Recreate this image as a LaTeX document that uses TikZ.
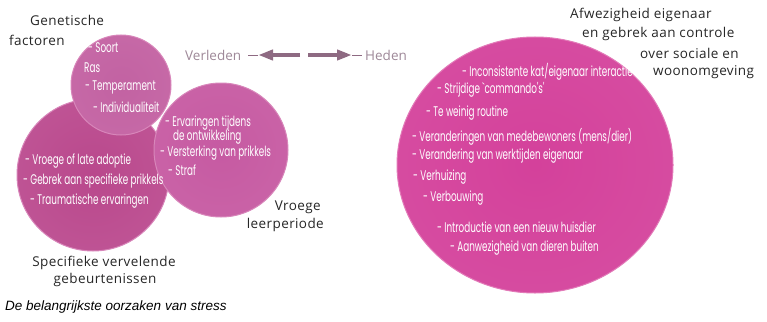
\documentclass[tikz,border=0pt]{standalone}
\usepackage{fontspec}
\setmainfont{Open Sans}
\newfontfamily\lblfont[LetterSpace=3]{Open Sans}
\newfontfamily\itemfont[FakeStretch=0.63]{Poppins}
\newfontfamily\capfont{Liberation Sans}
\usetikzlibrary{arrows.meta,shapes.geometric}
\definecolor{pinkS}{HTML}{B9488C}
\definecolor{pinkG}{HTML}{C262A2}
\definecolor{pinkV}{HTML}{C65AA2}
\definecolor{pinkB}{HTML}{D4419B}
\definecolor{rimA}{HTML}{D886BA}
\definecolor{rimB}{HTML}{E27AB8}
\definecolor{mauve}{HTML}{8E6A82}
\definecolor{mauvetxt}{HTML}{9E8898}
\tikzset{
  bubble/.style={circle, inner sep=0pt, draw=rimA, line width=1pt, inner color=#1, outer color=#1!82!rimA},
  bigbubble/.style={ellipse, inner sep=0pt, draw=rimB, line width=1pt, inner color=pinkB, outer color=pinkB!82!rimB},
  item/.style={anchor=west, text=white, font=\itemfont\fontsize{14}{16}\selectfont, inner sep=0pt},
  lbl/.style={text=black!85, font=\lblfont\fontsize{13.5}{15}\selectfont, inner sep=0pt},
  timelbl/.style={anchor=west, text=mauvetxt, font=\fontsize{13.5}{15}\selectfont, inner sep=0pt},
  bar/.style={draw=mauve, line width=4.5pt, -{Triangle[length=15pt,width=10pt]}},
  thinline/.style={draw=mauve, line width=0.8pt}
}
\begin{document}
\begin{tikzpicture}[x=1pt,y=-1pt]
\useasboundingbox (0,0) rectangle (767,321);
% bubbles
\node[bubble=pinkS, minimum size=152pt] (spec) at (93,175) {};
\node[bubble=pinkV, minimum size=134pt] (vroeg) at (221,150) {};
\node[bubble=pinkG, minimum size=100pt] (gen) at (121,85) {};
\node[bigbubble, minimum width=276pt, minimum height=256pt] (afw) at (535,165) {};

% labels
\node[lbl, anchor=west] (g1) at (30,20) {Genetische};
\node[lbl, anchor=west] (g2) at (9,40) {factoren};
\node[lbl, anchor=east] (v1) at (321,207) {Vroege};
\node[lbl, anchor=east] (v2) at (324,225) {leerperiode};
\node[lbl] (s1) at (104,263) {Specifieke vervelende};
\node[lbl] (s2) at (105,280) {gebeurtenissen};
\node[lbl, anchor=west] (a1) at (570,15) {Afwezigheid eigenaar};
\node[lbl, anchor=west] (a2) at (582,34) {en gebrek aan controle};
\node[lbl, anchor=west] (a3) at (640,53) {over sociale en};
\node[lbl, anchor=west] (a4) at (653,72) {woonomgeving};
\node[anchor=west, inner sep=0pt, font=\capfont\itshape\fontsize{13.5}{15}\selectfont] (cap) at (5,307) {De belangrijkste oorzaken van stress};

% time arrows
\node[timelbl] (verl) at (185,55) {Verleden};
\node[timelbl] (hed) at (365,55) {Heden};
\coordinate (l0) at (300,55);
\coordinate (l1) at (258,55);
\coordinate (l2) at (248,55);
\coordinate (r0) at (308,55);
\coordinate (r1) at (352,55);
\coordinate (r2) at (362,55);
\draw[bar] (l0) -- (l1);
\draw[thinline] (l1) -- (l2);
\draw[bar] (r0) -- (r1);
\draw[thinline] (r1) -- (r2);

% genetic items
\node[item] (gi1) at (88,48) {- Soort};
\node[item] (gi2) at (84,68) {Ras};
\node[item] (gi3) at (85,87) {- Temperament};
\node[item] (gi4) at (93,107) {- Individualiteit};
% specific items
\node[item] (si1) at (25,161) {- Vroege of late adoptie};
\node[item] (si2) at (23,181) {- Gebrek aan specifieke prikkels};
\node[item] (si3) at (30,201) {- Traumatische ervaringen};
% early learning items
\node[item] (vi1) at (165,123) {- Ervaringen tijdens};
\node[item] (vi2) at (173,137) {de ontwikkeling};
\node[item] (vi3) at (160,153) {- Versterking van prikkels};
\node[item] (vi4) at (168,170) {- Straf};
% right items
\node[item] (ai1) at (462,72) {- Inconsistente kat/eigenaar interactie};
\node[item] (ai2) at (437,90) {- Strijdige `commando's'};
\node[item] (ai3) at (426,113) {- Te weinig routine};
\node[item] (ai4) at (412,137) {- Veranderingen van medebewoners (mens/dier)};
\node[item] (ai5) at (412,156) {- Verandering van werktijden eigenaar};
\node[item] (ai6) at (413,177) {- Verhuizing};
\node[item] (ai7) at (423,198) {- Verbouwing};
\node[item] (ai8) at (437,227) {- Introductie van een nieuw huisdier};
\node[item] (ai9) at (450,248) {- Aanwezigheid van dieren buiten};
\end{tikzpicture}
\end{document}
